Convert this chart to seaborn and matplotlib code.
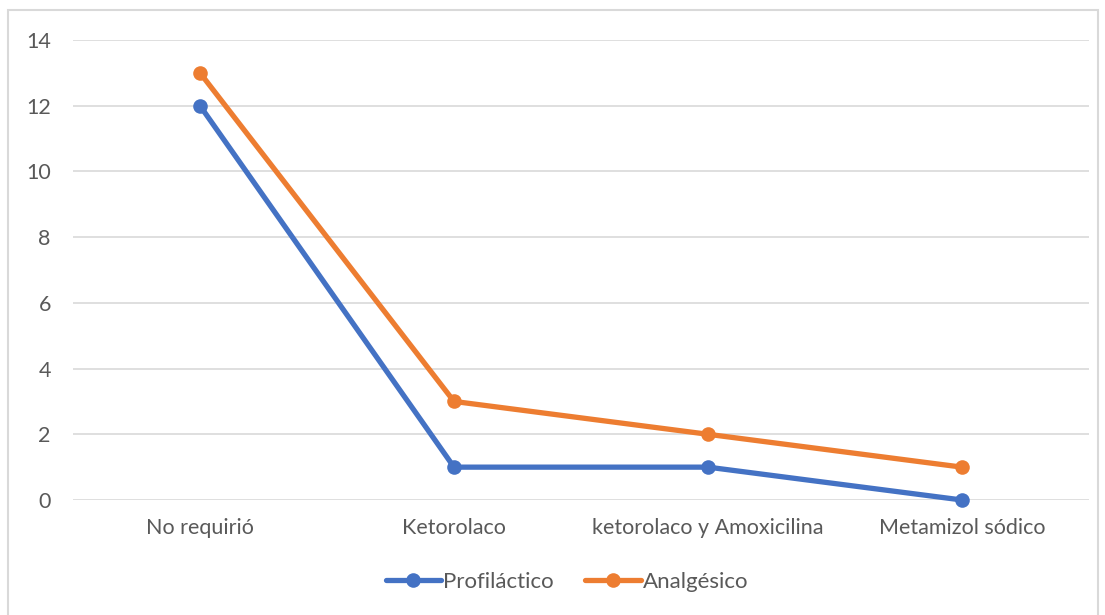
import matplotlib
matplotlib.use("Agg")
import matplotlib.pyplot as plt
import matplotlib.patches as mpatches
import seaborn as sns
import pandas as pd

categorias = ["No requirió", "Ketorolaco", "ketorolaco y Amoxicilina", "Metamizol sódico"]
profilactico = [12, 1, 1, 0]
analgesico = [13, 3, 2, 1]
series = ["Profiláctico", "Analgésico"]
colores = ["#4472C4", "#ED7D31"]
yticks = [0, 2, 4, 6, 8, 10, 12, 14]

df = pd.DataFrame({
    "categoria": categorias * 2,
    "valor": profilactico + analgesico,
    "serie": [series[0]] * len(categorias) + [series[1]] * len(categorias),
})

sns.set_style("white")
plt.rcParams["font.family"] = ["Lato", "DejaVu Sans"]

W, H = 1105, 615
FS = 15.5
fig = plt.figure(figsize=(W / 100, H / 100), dpi=100)
ax = fig.add_axes([73 / W, 1 - 500 / H, (1089 - 73) / W, (500 - 40) / H])

sns.lineplot(data=df, x="categoria", y="valor", hue="serie", palette=colores,
             marker="o", markersize=10.5, markeredgewidth=0, linewidth=3.8,
             sort=False, ax=ax, legend=False)
for ln in ax.lines:
    ln.set_clip_on(False)

ax.set_xlim(-0.5, len(categorias) - 0.5)
ax.set_ylim(0, 14)
ax.set_yticks(yticks)
ax.set_yticklabels([str(v) for v in yticks])
ax.yaxis.grid(True, color="#D9D9D9", linewidth=1.2)
ax.set_axisbelow(True)
for s in ax.spines.values():
    s.set_visible(False)
ax.tick_params(axis="both", length=0, labelsize=FS, labelcolor="#595959")
ax.tick_params(axis="x", pad=13)
ax.tick_params(axis="y", pad=16)
ax.set_xlabel("")
ax.set_ylabel("")

handles = [plt.Line2D([0], [0], color=c, linewidth=3.8, marker="o",
                      markersize=10.5, markeredgewidth=0) for c in colores]
fig.legend(handles, series, loc="center", bbox_to_anchor=(567 / W, 1 - 582 / H),
           ncol=2, frameon=False, fontsize=16, labelcolor="#595959",
           handlelength=2.5, handletextpad=0.1, columnspacing=1.4)

border = mpatches.Rectangle((8 / W, -0.05), (1098 - 8) / W, 1.05 - 10 / H,
                            transform=fig.transFigure, fill=False,
                            edgecolor="#D9D9D9", linewidth=1.5)
fig.patches.append(border)

fig.savefig("out.png", dpi=100)
